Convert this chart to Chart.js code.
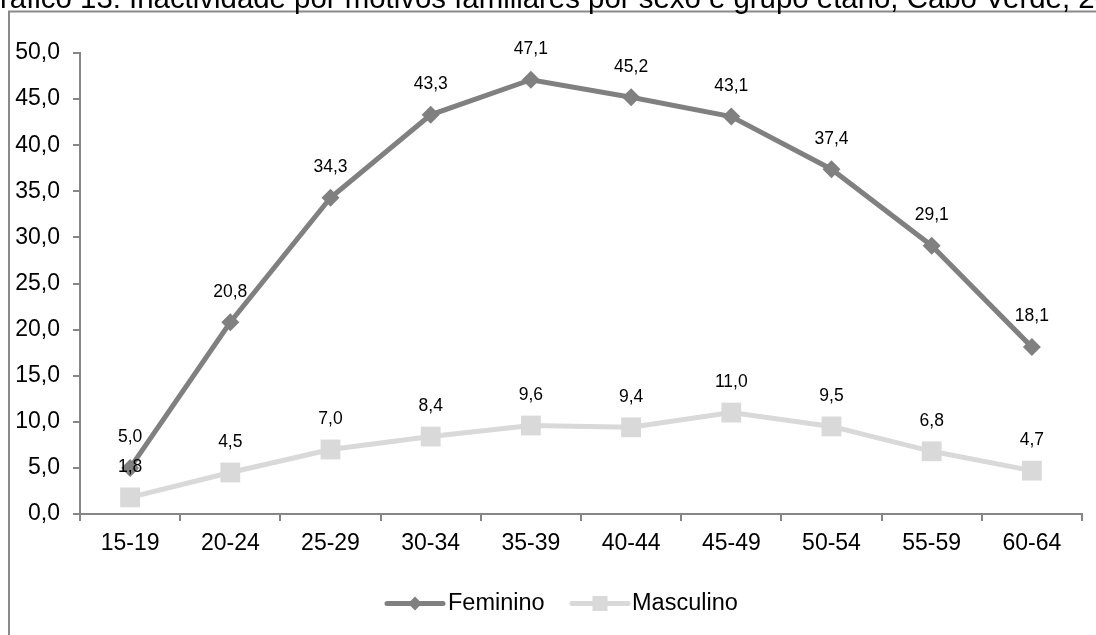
<!DOCTYPE html>
<html>
<head>
<meta charset="utf-8">
<script src="https://cdn.jsdelivr.net/npm/chart.js@4/dist/chart.umd.min.js"></script>
<style>
  html, body { margin: 0; padding: 0; background: #fff; overflow: hidden; }
  #wrap { position: relative; width: 1096px; height: 635px; }
</style>
</head>
<body>
<div id="wrap"><canvas id="chart" width="1096" height="635"></canvas></div>
<script>
const ageGroups = ['15-19', '20-24', '25-29', '30-34', '35-39', '40-44', '45-49', '50-54', '55-59', '60-64'];
const feminino  = [5.0, 20.8, 34.3, 43.3, 47.1, 45.2, 43.1, 37.4, 29.1, 18.1];
const masculino = [1.8, 4.5, 7.0, 8.4, 9.6, 9.4, 11.0, 9.5, 6.8, 4.7];
const titleText = 'Gráfico 13: Inactividade por motivos familiares por sexo e grupo etário, Cabo Verde, 2012';

const FONT = 'Arial, "Liberation Sans", sans-serif';
const AXIS_GREY = '#868686';

function fmt(n) { return n.toFixed(1).replace('.', ','); }

// frame + title behind everything
const framePlugin = {
  id: 'frame',
  beforeDraw(chart) {
    const ctx = chart.ctx;
    ctx.save();
    ctx.fillStyle = '#fff';
    ctx.fillRect(0, 0, chart.width, chart.height);
    ctx.strokeStyle = '#8a8a8a';
    ctx.lineWidth = 2;
    ctx.strokeRect(9, 11.5, 1200, 800);
    ctx.font = '29.4px ' + FONT;
    ctx.fillStyle = '#000';
    ctx.textBaseline = 'alphabetic';
    ctx.textAlign = 'left';
    const g = ctx.measureText('G').width;
    ctx.fillText(titleText, -g, 7.5);
    ctx.restore();
  }
};

// value labels above each point, plus the legend row
const labelsPlugin = {
  id: 'valueLabels',
  afterDatasetsDraw(chart) {
    const ctx = chart.ctx;
    ctx.save();
    ctx.font = '17.5px ' + FONT;
    ctx.fillStyle = '#000';
    ctx.textAlign = 'center';
    ctx.textBaseline = 'middle';
    chart.data.datasets.forEach((ds, i) => {
      chart.getDatasetMeta(i).data.forEach((pt, j) => {
        ctx.fillText(fmt(ds.data[j]), pt.x, pt.y - 30.5);
      });
    });

    // legend
    const y = 603.5;
    const items = [
      { ds: chart.data.datasets[0], x0: 387, x1: 443, tx: 448 },
      { ds: chart.data.datasets[1], x0: 572, x1: 628, tx: 632 }
    ];
    items.forEach(it => {
      ctx.strokeStyle = it.ds.borderColor;
      ctx.lineWidth = 5;
      ctx.lineCap = 'round';
      ctx.beginPath();
      ctx.moveTo(it.x0, y);
      ctx.lineTo(it.x1, y);
      ctx.stroke();
      const cx = (it.x0 + it.x1) / 2;
      ctx.fillStyle = it.ds.borderColor;
      if (it.ds.pointStyle === 'rectRot') {
        ctx.beginPath();
        ctx.moveTo(cx, y - 7);
        ctx.lineTo(cx + 7, y);
        ctx.lineTo(cx, y + 7);
        ctx.lineTo(cx - 7, y);
        ctx.closePath();
        ctx.fill();
      } else {
        ctx.fillRect(cx - 7.5, y - 7.5, 15, 15);
      }
      ctx.font = '23.5px ' + FONT;
      ctx.fillStyle = '#000';
      ctx.textAlign = 'left';
      ctx.fillText(it.ds.label, it.tx, y);
    });
    ctx.restore();
  }
};

new Chart(document.getElementById('chart'), {
  type: 'line',
  data: {
    labels: ageGroups,
    datasets: [
      {
        label: 'Feminino',
        data: feminino,
        borderColor: '#808080',
        backgroundColor: '#808080',
        borderWidth: 5,
        pointStyle: 'rectRot',
        pointRadius: 9,
        pointBorderWidth: 0,
        pointBackgroundColor: '#808080',
        tension: 0
      },
      {
        label: 'Masculino',
        data: masculino,
        borderColor: '#d9d9d9',
        backgroundColor: '#d9d9d9',
        borderWidth: 5,
        pointStyle: 'rect',
        pointRadius: 14,
        pointBorderWidth: 0,
        pointBackgroundColor: '#d9d9d9',
        tension: 0
      }
    ]
  },
  options: {
    responsive: false,
    animation: false,
    layout: { padding: { left: 0, right: 12, top: 53, bottom: 0 } },
    plugins: {
      legend: { display: false },
      tooltip: { enabled: false }
    },
    scales: {
      x: {
        offset: true,
        grid: { offset: true, drawOnChartArea: false, drawTicks: true, tickLength: 7, color: AXIS_GREY, lineWidth: 2 },
        border: { color: AXIS_GREY, width: 2 },
        ticks: { color: '#000', font: { family: FONT, size: 23 }, padding: 9, maxRotation: 0, autoSkip: false },
        afterFit(scale) { scale.height = 121; }
      },
      y: {
        min: 0,
        max: 50,
        grid: { drawOnChartArea: false, drawTicks: true, tickLength: 7, color: AXIS_GREY, lineWidth: 2 },
        border: { color: AXIS_GREY, width: 2 },
        ticks: { stepSize: 5, color: '#000', font: { family: FONT, size: 23 }, padding: 13, callback: v => fmt(v) },
        afterFit(scale) { scale.width = 80; }
      }
    }
  },
  plugins: [framePlugin, labelsPlugin]
});
</script>
</body>
</html>
